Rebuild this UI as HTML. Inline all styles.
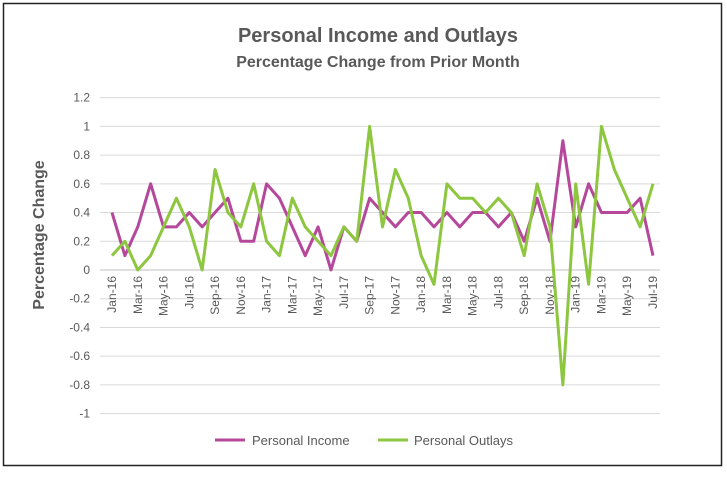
<!DOCTYPE html>
<html><head><meta charset="utf-8"><style>
body{margin:0;background:#fff;font-family:"Liberation Sans",sans-serif}
svg text{font-family:"Liberation Sans",sans-serif}
</style></head><body>
<svg id="chart" width="727" height="472">
<rect x="3.5" y="3.5" width="718" height="462" fill="#fff" stroke="#222" stroke-width="1.5"/>
<text x="378" y="42" text-anchor="middle" font-size="20" font-weight="bold" fill="#595959">Personal Income and Outlays</text>
<text x="378" y="67" text-anchor="middle" font-size="16" font-weight="bold" fill="#595959">Percentage Change from Prior Month</text>
<text transform="translate(44,235) rotate(-90)" text-anchor="middle" font-size="16" font-weight="bold" fill="#595959">Percentage Change</text>
<g id="grid"></g><g id="xlab"></g><g id="series"></g>
<line x1="215" y1="440" x2="245" y2="440" stroke="#B5489A" stroke-width="3"/>
<text x="252" y="445" font-size="13" fill="#595959">Personal Income</text>
<line x1="378" y1="440" x2="408" y2="440" stroke="#8DC63F" stroke-width="3"/>
<text x="414" y="445" font-size="13" fill="#595959">Personal Outlays</text>
</svg>
<script>
const months=["Jan-16","Feb-16","Mar-16","Apr-16","May-16","Jun-16","Jul-16","Aug-16","Sep-16","Oct-16","Nov-16","Dec-16","Jan-17","Feb-17","Mar-17","Apr-17","May-17","Jun-17","Jul-17","Aug-17","Sep-17","Oct-17","Nov-17","Dec-17","Jan-18","Feb-18","Mar-18","Apr-18","May-18","Jun-18","Jul-18","Aug-18","Sep-18","Oct-18","Nov-18","Dec-18","Jan-19","Feb-19","Mar-19","Apr-19","May-19","Jun-19","Jul-19"];
const income=[0.4,0.1,0.3,0.6,0.3,0.3,0.4,0.3,0.4,0.5,0.2,0.2,0.6,0.5,0.3,0.1,0.3,0.0,0.3,0.2,0.5,0.4,0.3,0.4,0.4,0.3,0.4,0.3,0.4,0.4,0.3,0.4,0.2,0.5,0.2,0.9,0.3,0.6,0.4,0.4,0.4,0.5,0.1];
const outlays=[0.1,0.2,0.0,0.1,0.3,0.5,0.3,0.0,0.7,0.4,0.3,0.6,0.2,0.1,0.5,0.3,0.2,0.1,0.3,0.2,1.0,0.3,0.7,0.5,0.1,-0.1,0.6,0.5,0.5,0.4,0.5,0.4,0.1,0.6,0.3,-0.8,0.6,-0.1,1.0,0.7,0.5,0.3,0.6];
const yTicks=[1.2,1,0.8,0.6,0.4,0.2,0,-0.2,-0.4,-0.6,-0.8,-1];
const NS="http://www.w3.org/2000/svg";
const y=v=>270-v*143.6;
const x=i=>112+i*(541/(months.length-1));
function mk(t,a,p){const e=document.createElementNS(NS,t);for(const k in a)e.setAttribute(k,a[k]);p.appendChild(e);return e;}
const grid=document.getElementById('grid');
yTicks.forEach(v=>{
 const l=mk('line',{x1:100,x2:660,y1:y(v),y2:y(v),stroke:v===0?'#bfbfbf':'#d9d9d9','stroke-width':1},grid);
 
 
 const t=mk('text',{x:90,y:y(v)+4,'text-anchor':'end','font-size':12,fill:'#595959'},grid);
 t.textContent=String(v);
 
 
});
const xl=document.getElementById('xlab');
months.forEach((m,i)=>{
 if(i%2)return;
 const t=mk('text',{transform:`translate(${x(i)+4},276) rotate(-90)`,'text-anchor':'end','font-size':12,fill:'#595959'},xl);
 t.textContent=m;
 
 
});
const sg=document.getElementById('series');
[[income,'#B5489A','income-line'],[outlays,'#8DC63F','outlays-line']].forEach(([d,c,n])=>{
 const p=mk('polyline',{points:d.map((v,i)=>x(i)+','+y(v)).join(' '),fill:'none',stroke:c,'stroke-width':3,'stroke-linejoin':'round'},sg);
 
 
});
</script>
</body></html>
